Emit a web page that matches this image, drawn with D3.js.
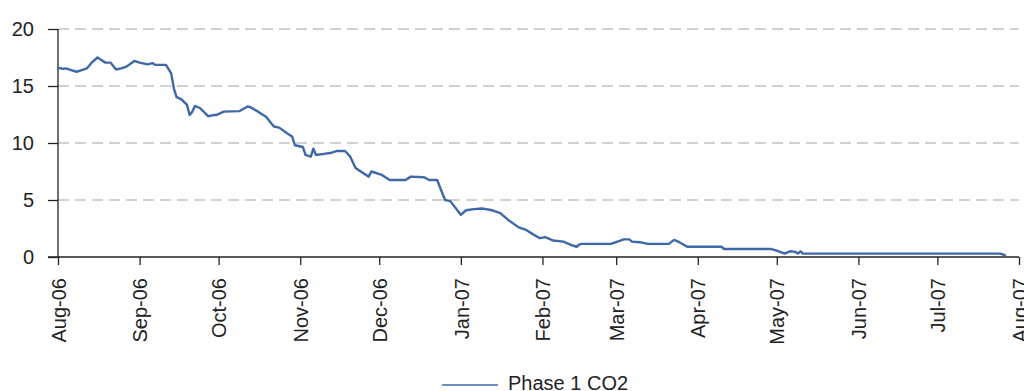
<!DOCTYPE html>
<html>
<head>
<meta charset="utf-8">
<script src="https://cdn.jsdelivr.net/npm/d3@7"></script>
<style>
  html, body { margin: 0; padding: 0; background: #fff; }
  svg { display: block; font-family: "Liberation Sans", Arial, sans-serif; }
</style>
</head>
<body>
<svg id="chart" width="1024" height="391"></svg>
<script>
// ---- data ----
const seriesName = "Phase 1 CO2";
const dates = [
  "2006-08-01","2006-08-03","2006-08-04","2006-08-06","2006-08-08","2006-08-10","2006-08-12","2006-08-14",
  "2006-08-16","2006-08-17","2006-08-19","2006-08-21","2006-08-23","2006-08-25","2006-08-27","2006-08-30",
  "2006-09-01","2006-09-04","2006-09-06","2006-09-07","2006-09-11","2006-09-13","2006-09-14","2006-09-15",
  "2006-09-17","2006-09-19","2006-09-20","2006-09-21","2006-09-22","2006-09-24","2006-09-27","2006-09-29",
  "2006-09-30","2006-10-03","2006-10-09","2006-10-12","2006-10-13","2006-10-16","2006-10-19","2006-10-22",
  "2006-10-24","2006-10-27","2006-10-29","2006-10-30","2006-11-02","2006-11-03","2006-11-05","2006-11-06",
  "2006-11-07","2006-11-10","2006-11-13","2006-11-15","2006-11-18","2006-11-20","2006-11-22","2006-11-25",
  "2006-11-27","2006-11-28","2006-12-02","2006-12-05","2006-12-11","2006-12-13","2006-12-18","2006-12-20",
  "2006-12-23","2006-12-26","2006-12-28","2007-01-01","2007-01-03","2007-01-06","2007-01-09","2007-01-13",
  "2007-01-16","2007-01-19","2007-01-23","2007-01-26","2007-01-28","2007-01-31","2007-02-02","2007-02-05",
  "2007-02-09","2007-02-12","2007-02-14","2007-02-15","2007-02-16","2007-02-27","2007-03-04","2007-03-06",
  "2007-03-07","2007-03-10","2007-03-13","2007-03-21","2007-03-23","2007-03-25","2007-03-28","2007-04-10",
  "2007-04-11","2007-04-29","2007-05-01","2007-05-04","2007-05-06","2007-05-08","2007-05-09","2007-05-10",
  "2007-05-11","2007-07-25","2007-07-27"
];
const values = [
  16.6,16.5,16.55,16.4,16.25,16.4,16.55,17.1,
  17.5,17.35,17.05,17.05,16.45,16.55,16.7,17.2,
  17.05,16.9,17.0,16.85,16.85,16.1,14.8,14.05,
  13.8,13.35,12.45,12.75,13.25,13.05,12.35,12.45,
  12.45,12.75,12.8,13.2,13.15,12.75,12.3,11.45,
  11.35,10.85,10.55,9.8,9.65,8.95,8.8,9.5,
  8.95,9.05,9.15,9.3,9.3,8.8,7.8,7.35,
  7.05,7.5,7.2,6.75,6.75,7.05,7.0,6.75,
  6.75,5.0,4.9,3.7,4.1,4.2,4.25,4.1,
  3.85,3.25,2.6,2.35,2.05,1.65,1.75,1.45,
  1.35,1.05,0.9,1.1,1.15,1.15,1.55,1.55,
  1.35,1.3,1.15,1.15,1.5,1.3,0.9,0.9,
  0.7,0.7,0.55,0.3,0.5,0.45,0.3,0.5,
  0.3,0.3,0.12
];
const yTicks = [0, 5, 10, 15, 20];
const xTickDates = ["2006-08-01","2006-09-01","2006-10-01","2006-11-01","2006-12-01","2007-01-01",
  "2007-02-01","2007-03-01","2007-04-01","2007-05-01","2007-06-01","2007-07-01","2007-08-01"];

// ---- chart ----
const parse = d3.timeParse("%Y-%m-%d");
const data = dates.map((d, i) => ({ date: parse(d), value: values[i] }));

const svg = d3.select("#chart");
const x = d3.scaleTime().domain([parse("2006-08-01"), parse("2007-08-01")]).range([58, 1019]);
const y = d3.scaleLinear().domain([0, 20]).range([257, 29]);

// gridlines
svg.append("g").selectAll("line").data(yTicks.filter(t => t > 0)).join("line")
  .attr("x1", 58).attr("x2", 1019)
  .attr("y1", d => y(d)).attr("y2", d => y(d))
  .attr("stroke", "#c2c2c2").attr("stroke-width", 1.3)
  .attr("stroke-dasharray", "11,6");

// y axis
const yAxis = svg.append("g").attr("transform", "translate(58,0)")
  .call(d3.axisLeft(y).tickValues(yTicks).tickSize(10).tickPadding(14).tickFormat(d3.format("d")));
yAxis.select(".domain").attr("stroke", "#222").attr("stroke-width", 1.3).attr("d", "M0,29V257");
yAxis.selectAll(".tick line").attr("stroke", "#222").attr("stroke-width", 1.3);
yAxis.selectAll(".tick text").attr("font-size", 20).attr("fill", "#222")
  .attr("font-family", "Liberation Sans, Arial, sans-serif");

// x axis
const fmt = d3.timeFormat("%b-%y");
const xAxis = svg.append("g").attr("transform", "translate(0,257)")
  .call(d3.axisBottom(x).tickValues(xTickDates.map(parse)).tickSize(8).tickFormat(fmt));
xAxis.select(".domain").attr("stroke", "#222").attr("stroke-width", 1.3).attr("d", "M48,0H1019");
xAxis.selectAll(".tick line").attr("stroke", "#222").attr("stroke-width", 1.3);
xAxis.selectAll(".tick text")
  .attr("font-size", 20).attr("fill", "#222")
  .attr("font-family", "Liberation Sans, Arial, sans-serif")
  .attr("text-anchor", "end")
  .attr("transform", "rotate(-90)")
  .attr("x", -21).attr("y", 0).attr("dy", "0.36em");

// line
const line = d3.line().x(d => x(d.date)).y(d => y(d.value));
svg.append("path").datum(data)
  .attr("d", line)
  .attr("fill", "none")
  .attr("stroke", "#3e68a8")
  .attr("stroke-width", 2.4)
  .attr("stroke-linejoin", "round");

// legend
const lg = svg.append("g");
lg.append("line").attr("x1", 442).attr("x2", 498).attr("y1", 385).attr("y2", 385)
  .attr("stroke", "#3e68a8").attr("stroke-width", 1.6);
lg.append("text").attr("x", 508).attr("y", 390).attr("font-size", 20).attr("fill", "#222")
  .text(seriesName);
</script>
</body>
</html>
